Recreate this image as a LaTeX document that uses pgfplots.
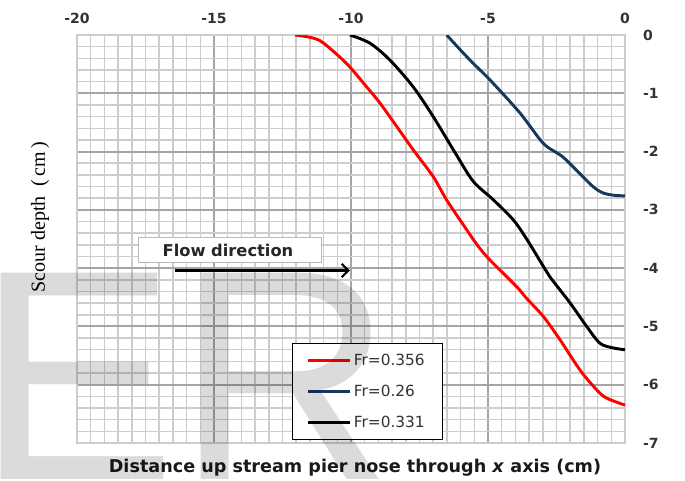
\documentclass[border=0pt]{standalone}
\usepackage{fontspec}
\setmainfont{DejaVu Sans}
\newfontfamily\serifface{Liberation Serif}
\newfontfamily\markface{Liberation Sans}
\usepackage{pgfplots}
\pgfplotsset{compat=1.18}
\usetikzlibrary{arrows.meta}

\definecolor{gridminor}{RGB}{205,205,205}
\definecolor{gridmajor}{RGB}{165,165,165}
\definecolor{navy}{RGB}{23,55,94}

% scour profiles upstream of the pier nose
\pgfplotstableread{
x y
-12.04 0
-11.40 -0.05
-11.00 -0.14
-10.16 -0.49
-9.43 -0.89
-8.94 -1.17
-8.33 -1.57
-7.73 -1.97
-7.00 -2.43
-6.51 -2.83
-5.78 -3.34
-5.35 -3.63
-4.93 -3.86
-3.95 -4.32
-3.59 -4.52
-2.98 -4.83
-2.37 -5.23
-1.64 -5.75
-1.03 -6.09
-0.67 -6.23
0 -6.35
}\frA

\pgfplotstableread{
x y
-6.51 0
-5.66 -0.43
-4.93 -0.77
-3.83 -1.34
-2.98 -1.86
-2.30 -2.08
-1.77 -2.32
-1.17 -2.60
-0.80 -2.71
-0.40 -2.75
0 -2.76
}\frB

\pgfplotstableread{
x y
-10.04 0
-9.31 -0.14
-8.58 -0.43
-7.73 -0.89
-7.00 -1.40
-6.20 -2.02
-5.54 -2.51
-4.80 -2.83
-4.08 -3.17
-3.59 -3.50
-2.98 -3.97
-2.74 -4.15
-2.00 -4.60
-1.40 -5.00
-0.91 -5.29
-0.42 -5.37
0 -5.40
}\frC

\begin{document}
\begin{tikzpicture}[x=1pt,y=1pt]
\useasboundingbox (0,0) rectangle (513.75,360.75);
\begin{axis}[
  at={(57.75pt,28.5pt)}, anchor=south west,
  scale only axis, width=411pt, height=306pt,
  xmin=-20, xmax=0, ymin=-7, ymax=0,
  xtick={-20,-15,...,0}, xticklabels={-20,-15,-10,-5,0},
  ytick={-7,-6,...,0}, yticklabels={-7,-6,-5,-4,-3,-2,-1,0},
  minor x tick num=9, minor y tick num=4,
  grid=both,
  minor grid style={gridminor, line width=1.1pt},
  major grid style={gridmajor, line width=1.4pt},
  axis line style={gridminor, line width=1.2pt},
  major tick length=0pt, minor tick length=0pt,
  xticklabel pos=top, yticklabel pos=right,
  tick label style={font=\fontsize{10.5}{12}\selectfont\bfseries, text=black!80},
  xticklabel style={yshift=5pt},
  yticklabel style={anchor=west, xshift=10pt},
  legend style={at={(0.392,0.245)}, anchor=north west, draw=black,
    line width=0.8pt, fill=white, font=\fontsize{11.5}{13}\selectfont,
    row sep=9pt, inner xsep=11pt, inner ysep=6pt, text=black!80},
  legend cell align=left,
  legend image code/.code={\draw[#1, line width=2.2pt] (0pt,0pt) -- (31pt,0pt);},
]
\addplot[red, line width=2.2pt, smooth] table {\frA};
\addlegendentry{Fr=0.356}
\addplot[navy, line width=2.2pt, smooth] table {\frB};
\addlegendentry{Fr=0.26}
\addplot[black, line width=2.2pt, smooth] table {\frC};
\addlegendentry{Fr=0.331}

\draw[gray!55, fill=white, line width=0.8pt] (axis cs:-17.77,-3.48) rectangle (axis cs:-11.06,-3.91);
\node[font=\fontsize{12.2}{14}\selectfont\bfseries, text=black!85] at (axis cs:-14.49,-3.70) {Flow direction};
\draw[line width=2pt, -{Straight Barb[length=5pt,width=10pt,line width=1.6pt]}] (axis cs:-16.42,-4.04) -- (axis cs:-10.04,-4.04);
\end{axis}

\node[font=\fontsize{13.2}{15}\selectfont\bfseries, text=black!90] at (266.25,9.75)
  {Distance up stream pier nose through \textit{x} axis (cm)};
\node[rotate=90, font=\serifface\fontsize{15}{17}\selectfont] at (30,198)
  {Scour depth\enspace(\,cm\,)};

\node[anchor=base west, inner sep=0, text=black, text opacity=0.14,
  font=\markface\fontsize{225}{225}\selectfont] at (-18,0.75) {ER};
\end{tikzpicture}
\end{document}
